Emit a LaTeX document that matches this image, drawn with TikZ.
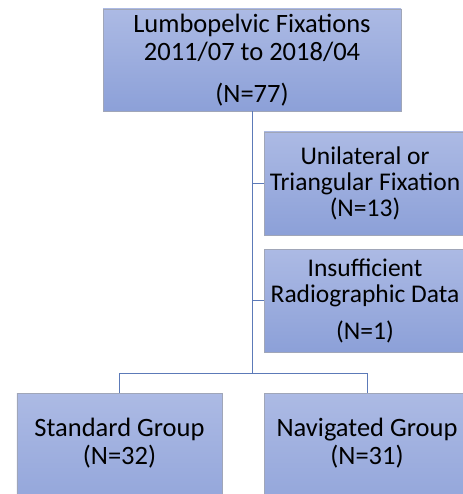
\documentclass[tikz,border=0pt]{standalone}
\usepackage{fontspec}
\setmainfont{Carlito}
\usetikzlibrary{calc}

\definecolor{boxtop}{RGB}{172,186,228}
\definecolor{boxbot}{RGB}{140,160,216}
\definecolor{boxrim}{RGB}{160,166,184}
\definecolor{linkblue}{RGB}{92,122,184}

\tikzset{
  flowbox/.style={rectangle, draw=boxrim, line width=0.8bp, top color=boxtop, bottom color=boxbot,
    minimum height=102bp, align=center, inner sep=0pt, text=black,
    font=\fontsize{26.5bp}{28bp}\selectfont},
  tightbox/.style={flowbox, minimum width=202bp, minimum height=103bp,
    font=\fontsize{25.5bp}{26bp}\selectfont},
  groupbox/.style={flowbox, minimum width=205bp, minimum height=144bp, text depth=48bp},
  link/.style={draw=linkblue, line width=1bp}
}

\begin{document}
\begin{tikzpicture}[x=1bp,y=-1bp]
  \useasboundingbox (0,0) rectangle (463,494);
  \clip (0,0) rectangle (463,494);

  \coordinate (Ctop) at (252, 59);
  \coordinate (Cuni) at (365, 183.5);
  \coordinate (Cins) at (365, 300.5);
  \coordinate (Cstd) at (119.5, 465);
  \coordinate (Cnav) at (367, 465);
  \coordinate (split) at (252, 373);

  \node[flowbox, minimum width=298bp, minimum height=102bp, yshift=-1bp] (total) at (Ctop)
    {Lumbopelvic Fixations\\2011/07 to 2018/04\\[14bp](N=77)};
  \node[tightbox] (uni) at (Cuni)
    {Unilateral or\\Triangular Fixation\\(N=13)};
  \node[tightbox] (ins) at (Cins)
    {Insufficient\\Radiographic Data\\[11bp](N=1)};
  \node[groupbox] (std) at (Cstd)
    {Standard Group\\(N=32)};
  \node[groupbox] (nav) at (Cnav)
    {Navigated Group\\(N=31)};

  \draw[link] (total.south) -- (split);
  \draw[link] (total.south |- uni.west) -- (uni.west);
  \draw[link] (total.south |- ins.west) -- (ins.west);
  \draw[link] (split) -| (std.north);
  \draw[link] (split) -| (nav.north);
\end{tikzpicture}
\end{document}
